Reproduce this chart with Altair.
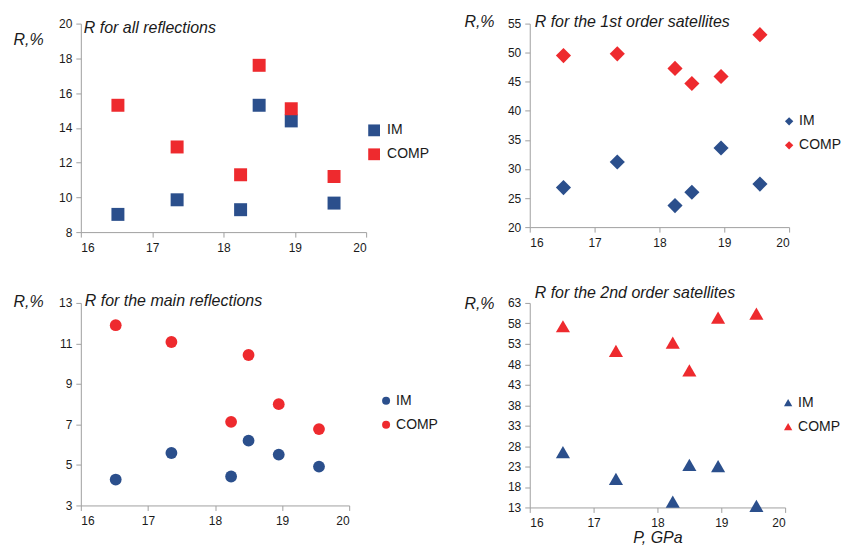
import altair as alt
import pandas as pd

# ---- data ----
pressure = [16.52, 17.35, 18.24, 18.50, 18.95, 19.55]

all_im = [9.02, 9.86, 9.29, 15.3, 14.4, 9.67]
all_comp = [15.3, 12.9, 11.3, 17.6, 15.1, 11.2]

sat1_im = [26.8, 31.2, 23.7, 26.0, 33.6, 27.4]
sat1_comp = [49.5, 49.8, 47.3, 44.7, 45.9, 53.1]

main_im = [4.28, 5.59, 4.43, 6.2, 5.51, 4.92]
main_comp = [11.9, 11.07, 7.13, 10.43, 8.0, 6.77]

sat2_im = [26.5, 20.0, 14.4, 23.4, 23.1, 13.4]
sat2_comp = [57.3, 51.3, 53.3, 46.5, 59.4, 60.4]

series_names = ["IM", "COMP"]
x_ticks = [16, 17, 18, 19, 20]

BLUE = "#2B4F8C"
RED = "#EE2A2E"
FONT = "Liberation Sans"
TXT = "#1a1a1a"
AXC = "#A0A0A0"


def make_df(im, comp):
    rows = []
    for p, v in zip(pressure, im):
        rows.append({"P": p, "R": v, "series": "IM"})
    for p, v in zip(pressure, comp):
        rows.append({"P": p, "R": v, "series": "COMP"})
    return pd.DataFrame(rows)


def panel(im, comp, shape, title, ylo, yhi, ystep, w, h, size, lsize,
          lx, ly, loff, tdx, tdy, ytx, yty, xtitle=None):
    df = make_df(im, comp)
    xkw = dict(values=x_ticks, grid=False, domainColor=AXC, tickColor=AXC,
               tickSize=5, labelPadding=5, labelFontSize=12, labelFont=FONT,
               labelColor=TXT, format="d")
    if xtitle:
        xkw.update(title=xtitle, titleFont=FONT, titleFontSize=16,
                   titleFontStyle="italic", titleFontWeight="normal",
                   titleColor=TXT, titleBaseline="alphabetic", titleY=35)
    xaxis = alt.Axis(**xkw)
    yaxis = alt.Axis(values=list(range(ylo, yhi + 1, ystep)), grid=False,
                     domainColor=AXC, tickColor=AXC, tickSize=5, labelPadding=4,
                     labelFontSize=12, labelFont=FONT, labelColor=TXT, format="d",
                     title="R,%", titleAngle=0, titleAlign="left",
                     titleBaseline="alphabetic", titleX=ytx, titleY=yty,
                     titleFont=FONT, titleFontSize=16, titleFontStyle="italic",
                     titleFontWeight="normal", titleColor=TXT)
    points = alt.Chart(df).mark_point(
        shape=shape, filled=True, opacity=1, size=size
    ).encode(
        x=alt.X("P:Q", scale=alt.Scale(domain=[16, 20], nice=False, zero=False,
                                       padding=0),
                axis=xaxis, title=xtitle if xtitle else None),
        y=alt.Y("R:Q", scale=alt.Scale(domain=[ylo, yhi], nice=False, zero=False,
                                       padding=0),
                axis=yaxis),
        color=alt.Color("series:N",
                        scale=alt.Scale(domain=series_names, range=[BLUE, RED]),
                        legend=alt.Legend(title=None, orient="none", legendX=lx,
                                          legendY=ly, symbolType=shape,
                                          symbolSize=lsize, symbolStrokeWidth=0,
                                          labelFont=FONT, labelFontSize=14,
                                          labelColor=TXT, labelOffset=loff,
                                          rowPadding=10)),
    )
    label = alt.Chart(pd.DataFrame({"label": [title]})).mark_text(
        align="left", baseline="alphabetic", font=FONT, fontSize=16,
        fontStyle="italic", color=TXT
    ).encode(text="label:N", x=alt.value(tdx), y=alt.value(tdy))
    return alt.layer(points, label).properties(
        width=w, height=h, view=alt.ViewBackground(stroke="transparent", strokeWidth=0)
    )


p1 = panel(all_im, all_comp, "square", "R for all reflections", 8, 20, 2,
           286, 209, 169, 140, 287, 100, 6, 3, 9.5, -68, 21)
p2 = panel(sat1_im, sat1_comp, "diamond", "R for the 1st order satellites", 20, 55, 5,
           260, 204, 230, 70, 253, 91, 3, 5, 3.3, -66, 3.3)
p3 = panel(main_im, main_comp, "circle", "R for the main reflections", 3, 13, 2,
           269, 203, 140, 64, 299, 91, 3, 4, 3.3, -68, 3.3)
p4 = panel(sat2_im, sat2_comp, "triangle-up", "R for the 2nd order satellites", 13, 63, 5,
           256, 205, 200, 70, 252, 93, 3, 5, -5, -66, 5.7, xtitle="P, GPa")

chart = alt.concat(
    p1, p2, p3, p4, columns=2, bounds="flush",
    spacing={"row": 71, "column": 164},
    align={"row": "none", "column": "each"},
).resolve_scale(
    x="independent", y="independent", color="independent"
).resolve_legend(color="independent").configure_view(
    stroke="transparent", strokeWidth=0
).configure(background="white", padding={"left": 5, "top": 5, "right": 0, "bottom": 0})

chart.save("out.html", embed_options={"renderer": "svg", "actions": False})
